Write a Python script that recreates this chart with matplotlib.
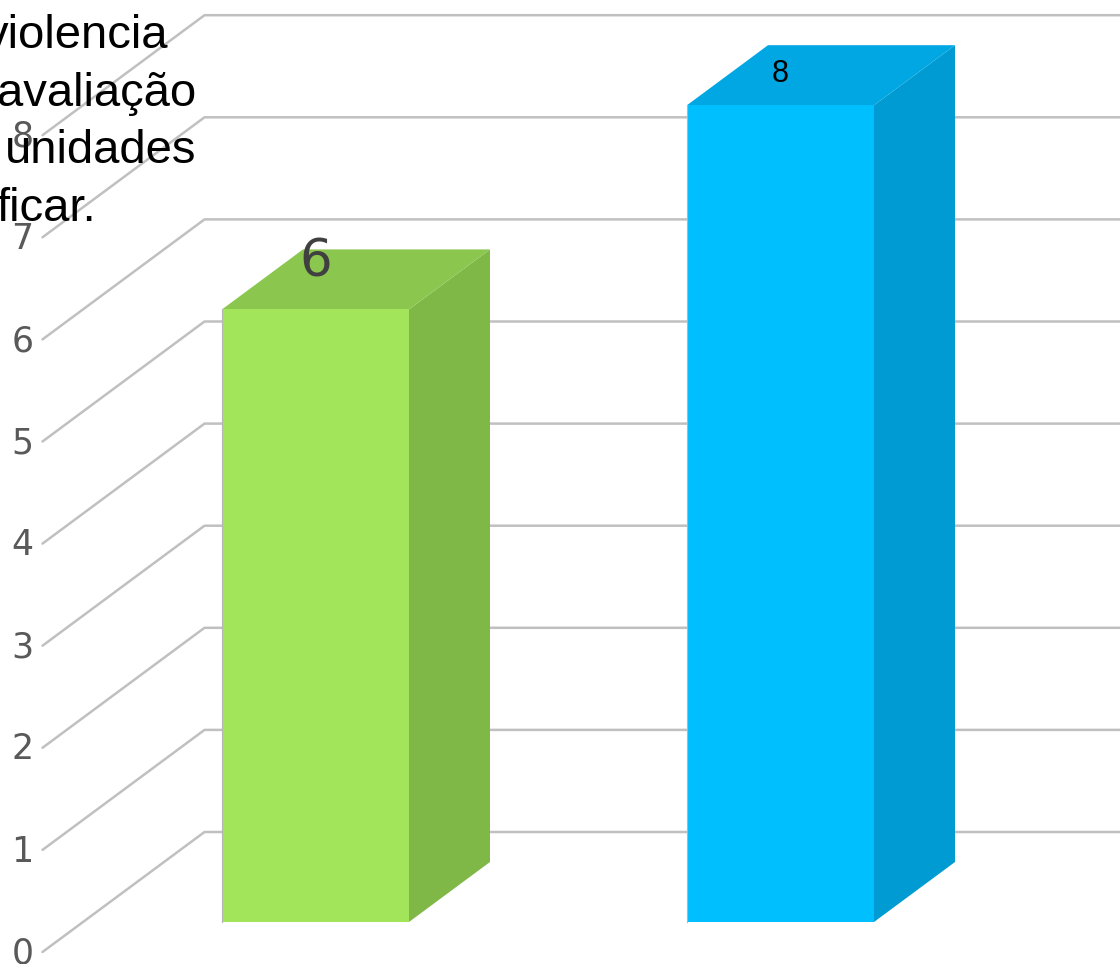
import matplotlib
matplotlib.use("Agg")
import matplotlib.pyplot as plt
from matplotlib.patches import Polygon

# chart values
categories = [0, 1]
values = [6, 8]
value_ticks = [0, 1, 2, 3, 4, 5, 6, 7, 8]
title_lines = ["violencia", "avaliação", "unidades", "ficar."]

front_colors = ["#a2e55b", "#00bfff"]
top_colors = ["#8bc74f", "#00a7e3"]
side_colors = ["#80b848", "#009bd3"]
label_colors = ["#404040", "#000000"]
label_sizes = [37, 22]
label_lifts = [0.75, 0.60]
label_fonts = ["DejaVu Sans", "Liberation Sans"]

W, H = 1120, 964
PX_X = 465.0  # pixels for one category
PX_Y = 102.1  # pixels for one value unit
X0 = 275.0    # pixel of category 0 on the front plane
Y0 = 952.0    # pixel of value 0 on the front plane
DX = 162.0 / PX_X  # depth shift of the floor
DY = 120.0 / PX_Y
BAR_W = 187.0 / PX_X
GRID = "#c0c0c0"


# oblique projection, depth 0 is the front of the floor and 1 the back wall
def proj(x, v, d):
    return x + DX * d, v + DY * d


fig = plt.figure(figsize=(W / 100, H / 100), dpi=100)
ax = fig.add_axes([0, 0, 1, 1])
ax.set_xlim(-X0 / PX_X, (W - X0) / PX_X)
ax.set_ylim((Y0 - H) / PX_Y, Y0 / PX_Y)
ax.axis("off")

# gridlines on side wall and back wall
for v in value_ticks:
    p1 = proj(-0.5, v, 0)
    p2 = proj(-0.5, v, 1)
    ax.plot([p1[0], p2[0], 3], [p1[1], p2[1], p2[1]], color=GRID, lw=1.8,
            solid_joinstyle="round", solid_capstyle="round", zorder=1)
    ax.text(p1[0] - 20 / PX_X, v - 1.6 / PX_Y, str(v), ha="center", va="center",
            fontsize=25, color="#595959", family="DejaVu Sans", zorder=2)

# bars, front face spans depth 0.25, back face depth 0.75
for x, v, cf, ct, cs in zip(categories, values, front_colors, top_colors, side_colors):
    l = x - BAR_W / 2
    r = l + BAR_W
    front = [proj(l, 0, 0.25), proj(r, 0, 0.25), proj(r, v, 0.25), proj(l, v, 0.25)]
    top = [proj(l, v, 0.25), proj(r, v, 0.25), proj(r, v, 0.75), proj(l, v, 0.75)]
    side = [proj(r, 0, 0.25), proj(r, 0, 0.75), proj(r, v, 0.75), proj(r, v, 0.25)]
    ax.add_patch(Polygon(side, closed=True, fc=cs, ec="none", zorder=3))
    ax.add_patch(Polygon(top, closed=True, fc=ct, ec="none", zorder=3))
    ax.add_patch(Polygon(front, closed=True, fc=cf, ec="none", zorder=4))
    # thin grey edge on the left of the front
    ax.plot([front[0][0], front[3][0]], [front[0][1], front[3][1]],
            color="#b5b5b5", lw=0.8, zorder=5)

# data labels sit on the top face
for x, v, c, s, lift, f in zip(categories, values, label_colors, label_sizes, label_lifts, label_fonts):
    ax.text(x + DX * 0.25, v + lift, str(v), ha="center", va="center",
            fontsize=s, color=c, family=f, zorder=6)

# title text runs off the left edge
ends = [168, 196, 196, 96]
bases = [48, 106, 163, 221]
for line, e, b in zip(title_lines, ends, bases):
    ax.text((e - X0) / PX_X, (Y0 - b) / PX_Y, line, ha="right", va="baseline",
            fontsize=34, color="black", family="Liberation Sans", zorder=7)

fig.savefig("out.png", dpi=100, facecolor="white")
